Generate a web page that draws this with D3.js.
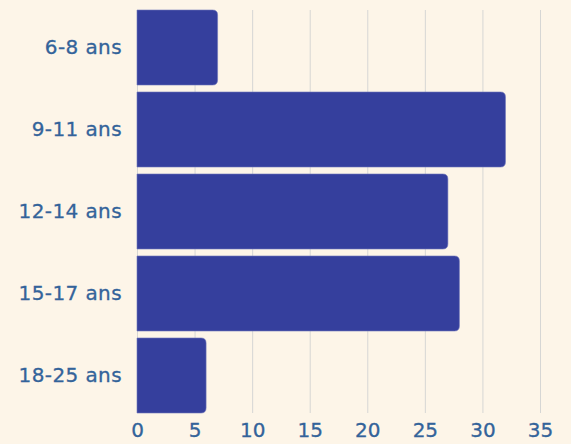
<!DOCTYPE html>
<html>
<head>
<meta charset="utf-8">
<script src="https://cdn.jsdelivr.net/npm/d3@7"></script>
<style>
  html, body { margin: 0; padding: 0; background: #fdf5e8; }
  #chart { width: 571px; height: 444px; }
  text { font-family: "DejaVu Sans", sans-serif; }
</style>
</head>
<body>
<div id="chart"></div>
<script>
// Data
const categories = ["6-8 ans", "9-11 ans", "12-14 ans", "15-17 ans", "18-25 ans"];
const values = [7, 32, 27, 28, 6];
const tickValues = [0, 5, 10, 15, 20, 25, 30, 35];

const margin = { top: 10, right: 31, bottom: 31, left: 137 };
const width = 571 - margin.left - margin.right;
const height = 444 - margin.top - margin.bottom;

const svg = d3.select("#chart")
  .append("svg")
    .attr("width", 571)
    .attr("height", 444)
  .append("g")
    .attr("transform", `translate(${margin.left},${margin.top})`);

const data = categories.map((c, i) => ({ cat: c, value: values[i] }));

// X scale
const x = d3.scaleLinear()
    .domain([0, 35])
    .range([0, width]);

// Y scale
const y = d3.scaleBand()
    .domain(categories)
    .range([0, height])
    .paddingInner(0.085)
    .paddingOuter(0);

// Vertical gridlines
svg.append("g")
  .selectAll("line")
  .data(tickValues)
  .join("line")
    .attr("x1", d => x(d) + 0.5)
    .attr("x2", d => x(d) + 0.5)
    .attr("y1", 0)
    .attr("y2", height)
    .attr("stroke", "#d6d6d4")
    .attr("stroke-width", 1);

// Bars, rounded on the right end only
const r = 5;
function barPath(d) {
  const x0 = x(0), x1 = x(d.value);
  const y0 = y(d.cat), y1 = y0 + y.bandwidth();
  return `M${x0},${y0}H${x1 - r}Q${x1},${y0} ${x1},${y0 + r}` +
         `V${y1 - r}Q${x1},${y1} ${x1 - r},${y1}H${x0}Z`;
}

svg.append("g")
  .selectAll("path")
  .data(data)
  .join("path")
    .attr("d", barPath)
    .attr("fill", "#353f9d")
    .attr("stroke", "#6f75bb")
    .attr("stroke-width", 0.6);

// X axis labels
const xAxis = svg.append("g")
    .attr("transform", `translate(0, ${height})`)
    .call(d3.axisBottom(x).tickValues(tickValues).tickSize(0).tickPadding(10));
xAxis.select(".domain").remove();
xAxis.selectAll("text")
    .style("font-family", "'DejaVu Sans', sans-serif")
    .style("font-size", "20px")
    .attr("fill", "#33639a")
    .attr("stroke", "#33639a")
    .attr("stroke-width", 0.3);

// Y axis labels
const yAxis = svg.append("g")
    .call(d3.axisLeft(y).tickSize(0).tickPadding(15));
yAxis.select(".domain").remove();
yAxis.selectAll("text")
    .style("font-family", "'DejaVu Sans', sans-serif")
    .style("font-size", "20px")
    .style("letter-spacing", "0.4px")
    .attr("fill", "#33639a")
    .attr("stroke", "#33639a")
    .attr("stroke-width", 0.3);
</script>
</body>
</html>
